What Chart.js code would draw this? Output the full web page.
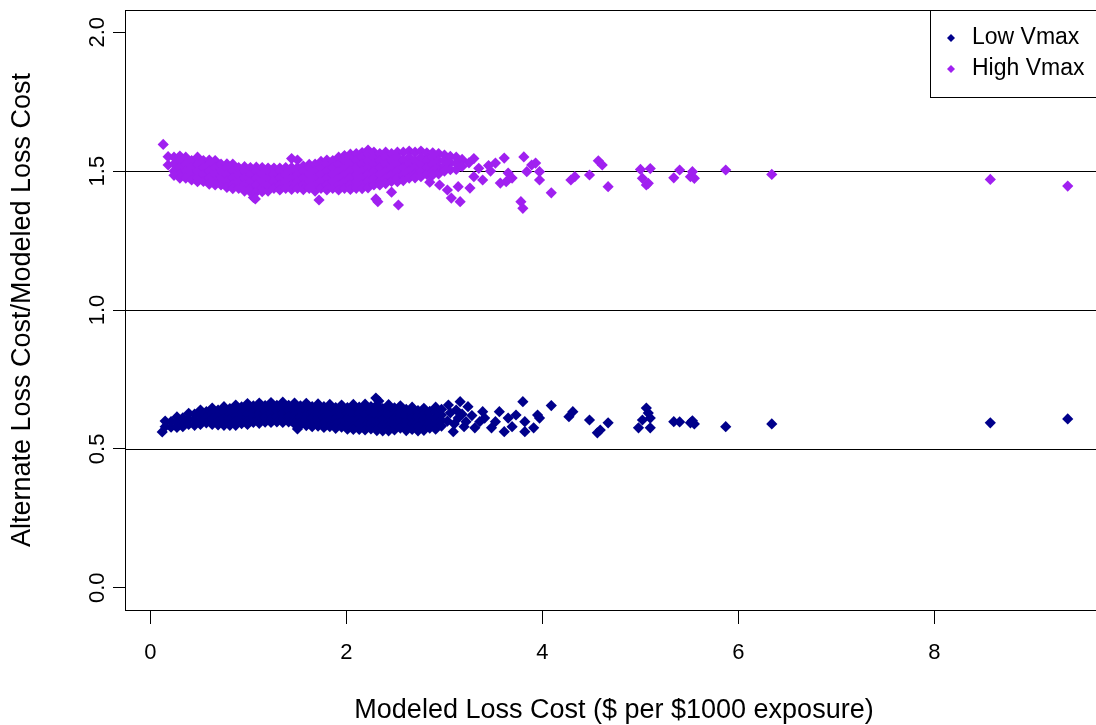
<!DOCTYPE html>
<html>
<head>
<meta charset="utf-8">
<title>Alternate / Modeled Loss Cost</title>
<script src="https://cdn.jsdelivr.net/npm/chart.js@4.4.1/dist/chart.umd.min.js"></script>
<style>
  html, body { margin: 0; padding: 0; background: #fff; overflow: hidden; }
  #wrap { width: 1096px; height: 725px; overflow: hidden; }
  canvas { display: block; }
</style>
</head>
<body>
<div id="wrap"><canvas id="lossChart" width="1110" height="725"></canvas></div>
<script>
// axis ticks + reference lines
const xTicks = [0, 2, 4, 6, 8];
const yTicks = [0, 0.5, 1, 1.5, 2];
const refLevels = [0.5, 1.0, 1.5];

const seriesNames = ["Low Vmax", "High Vmax"];
const seriesColors = ["#00008b", "#a020f0"];

// Low Vmax: dense band read column by column (x -> ratios)
const lowCols = [0.15, 0.21, 0.27, 0.33, 0.39, 0.45, 0.51, 0.57, 0.63, 0.69, 0.75, 0.81, 0.87, 0.93, 0.99,
  1.05, 1.11, 1.17, 1.23, 1.29, 1.35, 1.41, 1.47, 1.53, 1.59, 1.65, 1.71, 1.77, 1.83, 1.89, 1.95,
  2.01, 2.07, 2.13, 2.19, 2.25, 2.31, 2.37, 2.43, 2.49, 2.55, 2.61, 2.67, 2.73, 2.79, 2.85, 2.91, 2.97];
const lowColVals = [
  [0.600, 0.580], [0.598, 0.578], [0.615, 0.595, 0.577], [0.612, 0.592, 0.580],
  [0.628, 0.608, 0.588], [0.625, 0.605, 0.585], [0.640, 0.620, 0.600, 0.588], [0.634, 0.614, 0.594],
  [0.647, 0.627, 0.607, 0.588], [0.640, 0.620, 0.600, 0.586], [0.652, 0.632, 0.612, 0.592, 0.585],
  [0.645, 0.625, 0.605, 0.585], [0.658, 0.638, 0.618, 0.598, 0.585], [0.651, 0.631, 0.611, 0.591],
  [0.663, 0.643, 0.623, 0.603, 0.588], [0.655, 0.635, 0.615, 0.595], [0.665, 0.645, 0.625, 0.605, 0.592],
  [0.656, 0.636, 0.616, 0.596], [0.667, 0.647, 0.627, 0.607, 0.595], [0.657, 0.637, 0.617, 0.597],
  [0.668, 0.648, 0.628, 0.608, 0.595], [0.657, 0.637, 0.617, 0.597], [0.665, 0.645, 0.625, 0.605, 0.590],
  [0.655, 0.635, 0.615, 0.595, 0.586], [0.664, 0.644, 0.624, 0.604, 0.584], [0.652, 0.632, 0.612, 0.592, 0.580],
  [0.662, 0.642, 0.622, 0.602, 0.582], [0.652, 0.632, 0.612, 0.592, 0.577], [0.660, 0.640, 0.620, 0.600, 0.580],
  [0.649, 0.629, 0.609, 0.589, 0.574], [0.658, 0.638, 0.618, 0.598, 0.578], [0.649, 0.629, 0.609, 0.589, 0.571],
  [0.660, 0.640, 0.620, 0.600, 0.580, 0.570], [0.650, 0.630, 0.610, 0.590, 0.570],
  [0.661, 0.641, 0.621, 0.601, 0.581, 0.568], [0.652, 0.632, 0.612, 0.592, 0.572],
  [0.658, 0.638, 0.618, 0.598, 0.578, 0.566], [0.645, 0.625, 0.605, 0.585, 0.565],
  [0.659, 0.639, 0.619, 0.599, 0.579, 0.565], [0.648, 0.628, 0.608, 0.588, 0.568],
  [0.655, 0.635, 0.615, 0.595, 0.575], [0.642, 0.622, 0.602, 0.582, 0.566], [0.650, 0.630, 0.610, 0.590, 0.570],
  [0.638, 0.618, 0.598, 0.578, 0.565], [0.646, 0.626, 0.606, 0.586, 0.567], [0.635, 0.615, 0.595, 0.575],
  [0.650, 0.630, 0.610, 0.590, 0.571], [0.642, 0.622, 0.602, 0.582]
];
// Low Vmax: scattered points
const lowExtra = [
  [0.12, 0.561], [1.50, 0.572], [2.30, 0.683], [2.33, 0.672],
  [3.03, 0.600], [3.04, 0.658], [3.06, 0.630], [3.09, 0.562], [3.10, 0.590], [3.12, 0.640], [3.14, 0.611],
  [3.16, 0.670], [3.18, 0.625], [3.20, 0.580], [3.22, 0.598], [3.24, 0.652], [3.28, 0.620], [3.31, 0.576],
  [3.36, 0.598], [3.39, 0.634], [3.41, 0.611], [3.48, 0.576], [3.52, 0.598], [3.56, 0.634], [3.61, 0.562],
  [3.65, 0.611], [3.69, 0.580], [3.73, 0.622], [3.80, 0.670], [3.82, 0.598], [3.82, 0.562], [3.91, 0.576],
  [3.95, 0.622], [3.97, 0.611], [4.09, 0.656], [4.27, 0.616], [4.31, 0.634], [4.48, 0.604], [4.56, 0.558],
  [4.59, 0.568], [4.67, 0.594], [4.98, 0.576], [5.02, 0.604], [5.06, 0.647], [5.08, 0.629], [5.10, 0.611],
  [5.10, 0.576], [5.34, 0.598], [5.40, 0.597], [5.51, 0.594], [5.53, 0.601], [5.55, 0.590], [5.87, 0.580],
  [6.34, 0.590], [8.57, 0.594], [9.36, 0.608]
];

// High Vmax: dense band
const highCols = [0.18, 0.24, 0.30, 0.36, 0.42, 0.48, 0.54, 0.60, 0.66, 0.72, 0.78, 0.84, 0.90, 0.96,
  1.02, 1.08, 1.14, 1.20, 1.26, 1.32, 1.38, 1.44, 1.50, 1.56, 1.62, 1.68, 1.74, 1.80, 1.86, 1.92, 1.98,
  2.04, 2.10, 2.16, 2.22, 2.28, 2.34, 2.40, 2.46, 2.52, 2.58, 2.64, 2.70, 2.76, 2.82, 2.88, 2.94,
  3.00, 3.06, 3.12, 3.18];
const highColVals = [
  [1.552, 1.522], [1.550, 1.525, 1.500, 1.485], [1.554, 1.538, 1.513, 1.488, 1.475],
  [1.550, 1.525, 1.500, 1.475], [1.538, 1.513, 1.488, 1.468], [1.550, 1.525, 1.500, 1.475, 1.462],
  [1.538, 1.513, 1.488, 1.463], [1.540, 1.525, 1.500, 1.475, 1.453], [1.538, 1.513, 1.488, 1.463, 1.450],
  [1.525, 1.500, 1.475, 1.450], [1.526, 1.513, 1.488, 1.463, 1.441], [1.525, 1.500, 1.475, 1.450, 1.437],
  [1.513, 1.488, 1.463, 1.438], [1.516, 1.500, 1.475, 1.450, 1.428], [1.513, 1.488, 1.463, 1.438, 1.425],
  [1.514, 1.500, 1.475, 1.450, 1.425], [1.513, 1.488, 1.463, 1.438, 1.426], [1.511, 1.500, 1.475, 1.450, 1.428],
  [1.511, 1.488, 1.463, 1.438], [1.511, 1.500, 1.475, 1.450, 1.432], [1.513, 1.488, 1.463, 1.438],
  [1.545, 1.513, 1.500, 1.475, 1.450, 1.434], [1.540, 1.513, 1.488, 1.463, 1.438],
  [1.518, 1.500, 1.475, 1.450, 1.433], [1.524, 1.513, 1.488, 1.463, 1.438],
  [1.525, 1.500, 1.475, 1.450, 1.428], [1.535, 1.513, 1.488, 1.463, 1.438],
  [1.540, 1.525, 1.500, 1.475, 1.450, 1.432], [1.538, 1.513, 1.488, 1.463, 1.438],
  [1.550, 1.525, 1.500, 1.475, 1.450, 1.432], [1.556, 1.538, 1.513, 1.488, 1.463, 1.438],
  [1.561, 1.550, 1.525, 1.500, 1.475, 1.450, 1.434], [1.563, 1.538, 1.513, 1.488, 1.463, 1.438],
  [1.567, 1.550, 1.525, 1.500, 1.475, 1.450, 1.437], [1.576, 1.563, 1.538, 1.513, 1.488, 1.463, 1.440],
  [1.568, 1.550, 1.525, 1.500, 1.475, 1.450], [1.563, 1.538, 1.513, 1.488, 1.463, 1.450],
  [1.568, 1.550, 1.525, 1.500, 1.475, 1.455], [1.563, 1.538, 1.513, 1.488, 1.463],
  [1.568, 1.550, 1.525, 1.500, 1.475, 1.462], [1.568, 1.538, 1.513, 1.488, 1.466],
  [1.572, 1.550, 1.525, 1.500, 1.475], [1.568, 1.538, 1.513, 1.488, 1.476],
  [1.572, 1.550, 1.525, 1.500, 1.480], [1.566, 1.538, 1.513, 1.488],
  [1.566, 1.550, 1.525, 1.500, 1.486], [1.563, 1.538, 1.513, 1.490],
  [1.558, 1.540, 1.520, 1.500], [1.553, 1.530, 1.505], [1.550, 1.528, 1.506], [1.542, 1.517]
];
const highExtra = [
  [0.13, 1.596], [1.05, 1.405], [1.07, 1.400], [1.72, 1.396], [2.30, 1.400], [2.32, 1.390], [2.46, 1.424],
  [2.53, 1.378], [2.85, 1.460], [2.95, 1.450], [3.03, 1.432], [3.07, 1.403], [3.14, 1.444], [3.16, 1.390],
  [3.25, 1.530], [3.26, 1.439], [3.30, 1.545], [3.30, 1.480], [3.35, 1.510], [3.39, 1.468], [3.45, 1.520],
  [3.47, 1.500], [3.52, 1.529], [3.57, 1.457], [3.61, 1.547], [3.63, 1.462], [3.65, 1.493], [3.69, 1.475],
  [3.78, 1.390], [3.80, 1.366], [3.81, 1.551], [3.84, 1.498], [3.89, 1.522], [3.93, 1.529], [3.97, 1.498],
  [3.97, 1.468], [4.09, 1.422], [4.29, 1.468], [4.33, 1.480], [4.48, 1.486], [4.57, 1.537], [4.61, 1.522],
  [4.67, 1.444], [5.00, 1.506], [5.02, 1.474], [5.06, 1.450], [5.08, 1.456], [5.10, 1.509], [5.34, 1.476],
  [5.40, 1.504], [5.51, 1.480], [5.53, 1.498], [5.55, 1.474], [5.87, 1.504], [6.34, 1.488], [8.57, 1.470],
  [9.36, 1.446]
];

const FONT = "'Liberation Sans', Arial, sans-serif";
Chart.defaults.font.family = FONT;
Chart.defaults.color = "#000";

function toPoints(cols, colVals, extra) {
  const pts = [];
  cols.forEach((x, i) => colVals[i].forEach((y) => pts.push({ x, y })));
  extra.forEach(([x, y]) => pts.push({ x, y }));
  return pts;
}

// abline(h=...) under the points
const refLinesPlugin = {
  id: "refLines",
  beforeDatasetsDraw(chart) {
    const { ctx, chartArea: a, scales } = chart;
    ctx.save();
    ctx.strokeStyle = "#000";
    ctx.lineWidth = 1;
    refLevels.forEach((v) => {
      const py = Math.round(scales.y.getPixelForValue(v)) + 0.5;
      ctx.beginPath();
      ctx.moveTo(a.left, py);
      ctx.lineTo(a.right, py);
      ctx.stroke();
    });
    ctx.restore();
  },
};

// box() + legend in the top right corner
const boxLegendPlugin = {
  id: "boxLegend",
  afterDraw(chart) {
    const { ctx, chartArea: a } = chart;
    ctx.save();
    ctx.strokeStyle = "#000";
    ctx.lineWidth = 1;
    ctx.strokeRect(a.left + 0.5, a.top + 0.5, a.right - a.left, a.bottom - a.top);

    const lx = 930, ly = a.top;
    ctx.fillStyle = "#fff";
    ctx.fillRect(lx, ly, 300, 87);
    ctx.strokeRect(lx + 0.5, ly + 0.5, 300, 87);
    ctx.font = "23px " + FONT;
    ctx.textBaseline = "middle";
    chart.data.datasets.forEach((ds, i) => {
      const cy = ly + 28 + i * 31;
      ctx.fillStyle = ds.backgroundColor;
      ctx.beginPath();
      ctx.moveTo(951 - 4, cy);
      ctx.lineTo(951, cy - 4);
      ctx.lineTo(951 + 4, cy);
      ctx.lineTo(951, cy + 4);
      ctx.closePath();
      ctx.fill();
      ctx.fillStyle = "#000";
      ctx.fillText(ds.label, 972, cy);
    });
    ctx.restore();
  },
};

new Chart(document.getElementById("lossChart"), {
  type: "scatter",
  data: {
    datasets: [
      {
        label: seriesNames[0],
        data: toPoints(lowCols, lowColVals, lowExtra),
        backgroundColor: seriesColors[0],
        pointStyle: "rectRot",
        pointRadius: 5.6,
        pointBorderWidth: 0,
      },
      {
        label: seriesNames[1],
        data: toPoints(highCols, highColVals, highExtra),
        backgroundColor: seriesColors[1],
        pointStyle: "rectRot",
        pointRadius: 5.6,
        pointBorderWidth: 0,
      },
    ],
  },
  options: {
    responsive: false,
    animation: false,
    events: [],
    layout: { padding: { left: 0, top: 10, right: 7, bottom: 0 } },
    plugins: { legend: { display: false }, tooltip: { enabled: false } },
    scales: {
      x: {
        type: "linear",
        min: -0.26,
        max: 9.72,
        afterBuildTicks: (s) => { s.ticks = xTicks.map((v) => ({ value: v })); },
        afterFit: (s) => { s.height = 115; s.paddingLeft = 0; s.paddingRight = 0; },
        border: { display: false },
        grid: { drawOnChartArea: false, drawTicks: true, tickLength: 14, tickColor: "#000", lineWidth: 1 },
        ticks: { color: "#000", font: { size: 22 }, padding: 16, maxRotation: 0, autoSkip: false },
        title: {
          display: true,
          text: "Modeled Loss Cost ($ per $1000 exposure)",
          color: "#000",
          font: { size: 27 },
          padding: { top: 0, bottom: -2 },
        },
      },
      y: {
        type: "linear",
        min: -0.08,
        max: 2.08,
        afterBuildTicks: (s) => { s.ticks = yTicks.map((v) => ({ value: v })); },
        afterFit: (s) => { s.width = 125; s.paddingTop = 0; s.paddingBottom = 0; },
        border: { display: false },
        grid: { drawOnChartArea: false, drawTicks: true, tickLength: 12, tickColor: "#000", lineWidth: 1 },
        ticks: {
          color: "#000",
          font: { size: 22 },
          padding: 0,
          minRotation: 90,
          maxRotation: 90,
          crossAlign: "center",
          autoSkip: false,
          callback: (v) => Number(v).toFixed(1),
        },
        title: {
          display: true,
          text: "Alternate Loss Cost/Modeled Loss Cost",
          color: "#000",
          font: { size: 27 },
          padding: { top: 6, bottom: 0 },
        },
      },
    },
  },
  plugins: [refLinesPlugin, boxLegendPlugin],
});
</script>
</body>
</html>
